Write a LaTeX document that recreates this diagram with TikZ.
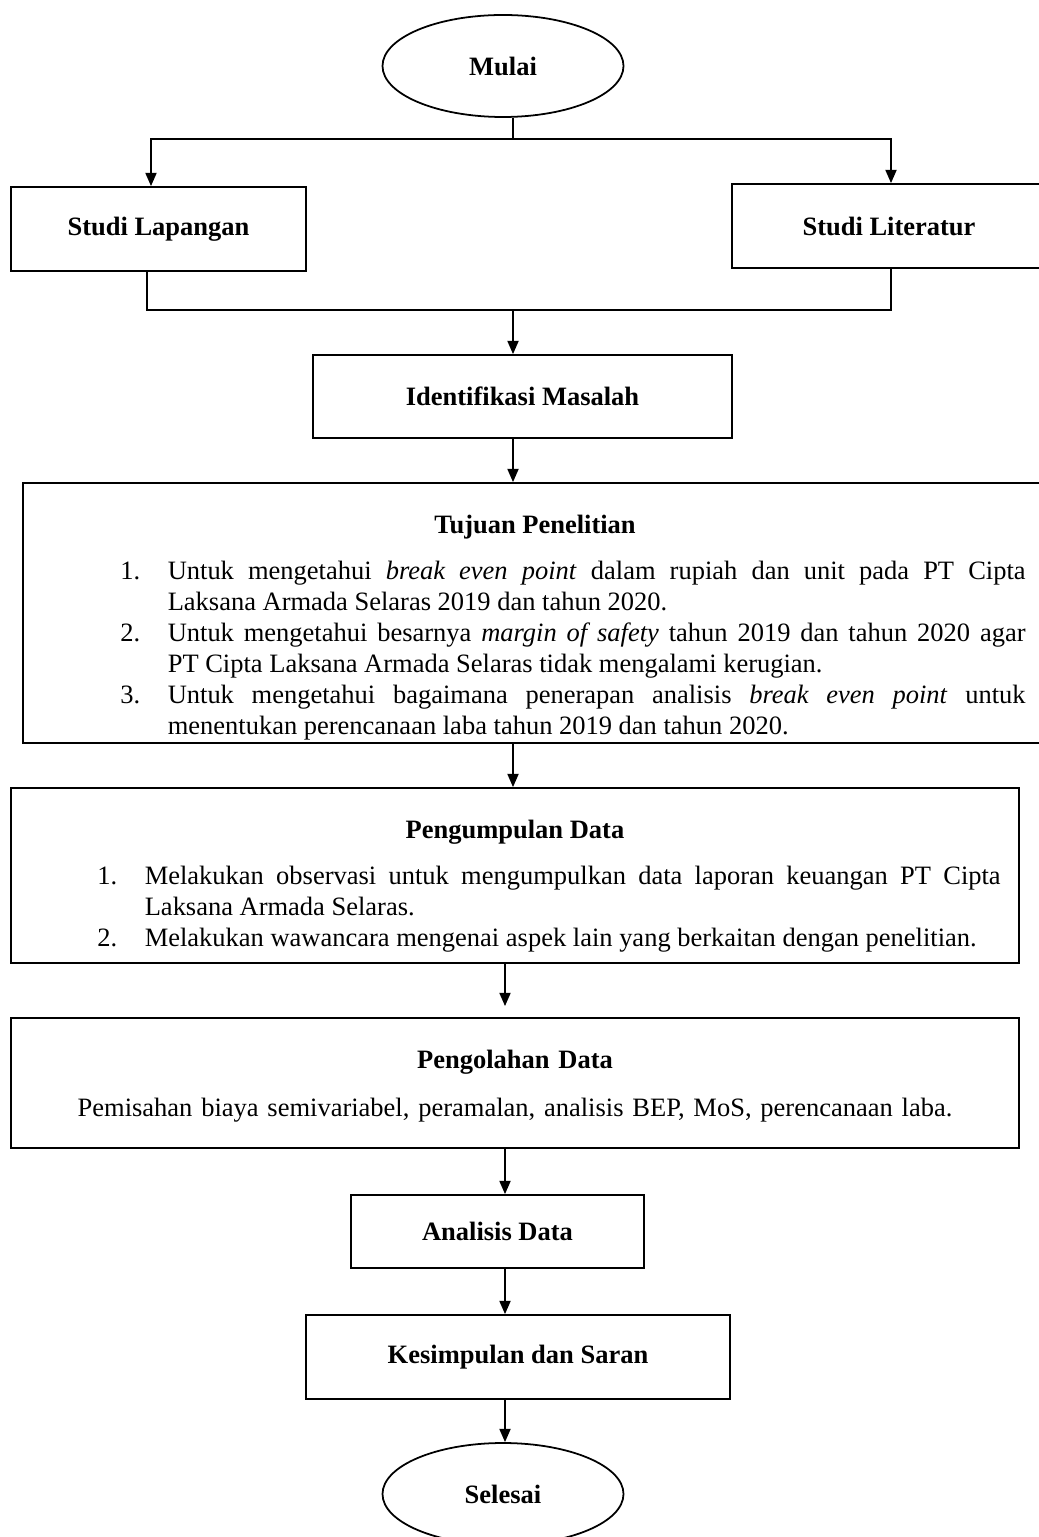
\documentclass[tikz,border=0pt]{standalone}
\usepackage{fontspec}
\setmainfont{Liberation Serif}
\usepackage{tikz}
\usetikzlibrary{shapes.geometric,arrows.meta}
\hyphenpenalty=10000
\exhyphenpenalty=10000
\tolerance=9999
\newcommand{\isi}{\fontsize{12}{14.05}\selectfont}
\newcommand{\butir}[3]{\noindent\hangindent=\dimexpr#1+21.5pt\relax\hangafter=1\hspace*{#1}\makebox[21.5pt][l]{#2}#3\par}

\begin{document}
\begin{tikzpicture}
[
x=0.453pt,y=-0.453pt,
line width=0.8pt,
terminal/.style 2 args={draw,ellipse,minimum width=#1*0.453pt,minimum height=#2*0.453pt,inner sep=0pt,font=\isi\bfseries},
proses/.style 2 args={draw,rectangle,minimum width=#1*0.453pt,minimum height=#2*0.453pt,inner sep=0pt,font=\isi\bfseries},
uraian/.style 2 args={draw,rectangle,minimum width=#1*0.453pt,minimum height=#2*0.453pt,inner sep=0pt,font=\isi},
panah/.style={-{Triangle[length=6pt,width=5pt]}},
]
\useasboundingbox (0,0) rectangle (1038,1537);

%Place the nodes
\node[terminal={241}{102}] (mulai) at (503,66) {Mulai};
\node[proses={295}{84}] (lap) at (158.5,229) {Studi Lapangan};
\node[proses={314}{84}] (lit) at (889,226) {Studi Literatur};
\node[proses={419}{83}] (idm) at (522.5,396.5) {Identifikasi Masalah};
\node[uraian={1024}{260},text width=444.5pt,align=justify] (tuj) at (535,613) {%
\centerline{\rule{0pt}{21.2pt}\textbf{Tujuan Penelitian}}\par\vspace{6.8pt}
\butir{34.4pt}{1.}{Untuk mengetahui \emph{break even point} dalam rupiah dan unit pada PT Cipta\linebreak Laksana Armada Selaras 2019 dan tahun 2020.}
\butir{34.4pt}{2.}{Untuk mengetahui besarnya \emph{margin of safety} tahun 2019 dan tahun 2020 agar\linebreak PT Cipta Laksana Armada Selaras tidak mengalami kerugian.}
\butir{34.4pt}{3.}{Untuk mengetahui bagaimana penerapan analisis \emph{break even point} untuk\linebreak menentukan perencanaan laba tahun 2019 dan tahun 2020.}};
\node[uraian={1008}{175},text width=440pt,align=justify] (kum) at (515,875.5) {%
\centerline{\rule{0pt}{18pt}\textbf{Pengumpulan Data}}\par\vspace{7.2pt}
\butir{30.8pt}{1.}{Melakukan observasi untuk mengumpulkan data laporan keuangan PT Cipta\linebreak Laksana Armada Selaras.}
\butir{30.8pt}{2.}{Melakukan wawancara mengenai aspek lain yang berkaitan dengan penelitian.}};
\node[uraian={1008}{130},text width=435pt,align=center] (olah) at (515,1083) {%
\rule{0pt}{11.2pt}\textbf{Pengolahan Data}\par\vspace{8.1pt}
Pemisahan biaya semivariabel, peramalan, analisis BEP, MoS, perencanaan laba.};
\node[proses={293}{73}] (anl) at (497.5,1231.5) {Analisis Data};
\node[proses={424}{84}] (simp) at (518,1357) {Kesimpulan dan Saran};
\node[terminal={241}{102}] (sel) at (503,1494) {Selesai};

\coordinate (cab) at (513,139);
\coordinate (cabL) at (151,139);
\coordinate (cabR) at (891,139);
\coordinate (gab) at (513,310);
\coordinate (gabL) at (147,310);
\coordinate (gabR) at (891,310);
\coordinate (jalur) at (505,0);

%Draw the connections
\draw (mulai.south -| cab) -- (cab);
\draw[panah] (cab) -- (cabL) -- (lap.north -| cabL);
\draw[panah] (cab) -- (cabR) -- (lit.north -| cabR);
\draw (lap.south -| gabL) -- (gabL) -- (gabR) -- (lit.south -| gabR);
\draw[panah] (gab) -- (idm.north -| gab);
\draw[panah] (idm.south -| gab) -- (tuj.north -| gab);
\draw[panah] (tuj.south -| gab) -- (kum.north -| gab);
\draw[panah,shorten >=5pt] (kum.south -| jalur) -- (olah.north -| jalur);
\draw[panah] (olah.south -| jalur) -- (anl.north -| jalur);
\draw[panah] (anl.south -| jalur) -- (simp.north -| jalur);
\draw[panah] (simp.south -| jalur) -- (sel.north -| jalur);
\end{tikzpicture}
\end{document}
